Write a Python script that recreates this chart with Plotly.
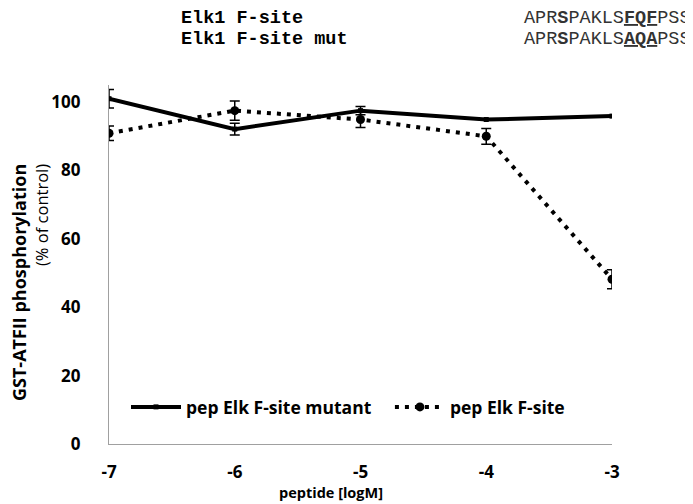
import plotly.graph_objects as go

# ---- data ----
log_conc = [-7, -6, -5, -4, -3]
mutant_vals = [101.0, 92.1, 97.5, 94.9, 95.9]
mutant_err = [2.7, 1.7, 1.2, 0.0, 0.0]
fsite_vals = [90.9, 97.5, 94.9, 90.0, 48.2]
fsite_err = [2.1, 2.8, 2.3, 2.3, 2.8]
y_ticks = [0, 20, 40, 60, 80, 100]
x_ticks = [-7, -6, -5, -4, -3]

FONT = "Open Sans"
MONO = "Liberation Mono"

fig = go.Figure()
fig.add_trace(go.Scatter(
    x=log_conc, y=mutant_vals, name="<b>pep Elk F-site mutant</b>\u00a0\u00a0\u00a0",
    mode="lines+markers",
    line=dict(color="black", width=4),
    marker=dict(symbol="square", size=5, color="black"),
    error_y=dict(type="data", array=mutant_err, visible=True,
                 color="black", thickness=1.5, width=5),
))
fig.add_trace(go.Scatter(
    x=log_conc, y=fsite_vals, name="<b>pep Elk F-site</b>",
    mode="lines+markers",
    line=dict(color="black", width=4, dash="4px,6px"),
    marker=dict(symbol="circle", size=9, color="black"),
    error_y=dict(type="data", array=fsite_err, visible=True,
                 color="black", thickness=1.5, width=5),
))

L, R, T, B = 101, 89, 77, 68
W, H = 693, 504
pw, ph = W - L - R, H - T - B

def px(xp):
    return (xp - L) / pw

def py(yp):
    return (H - B - yp) / ph

annos = [
    dict(text="<b>Elk1 F-site</b>", x=px(171), y=py(11), font=dict(family=MONO, size=18.5, color="black")),
    dict(text="<b>Elk1 F-site mut</b>", x=px(171), y=py(32), font=dict(family=MONO, size=18.5, color="black")),
    dict(text="APR<b>S</b>PAKLS<b><u>FQF</u></b>PSS", x=px(514), y=py(11), font=dict(family=MONO, size=18.5, color="#333")),
    dict(text="APR<b>S</b>PAKLS<b><u>AQA</u></b>PSS", x=px(514), y=py(32), font=dict(family=MONO, size=18.5, color="#333")),
]
for a in annos:
    fig.add_annotation(xref="paper", yref="paper", xanchor="left", yanchor="middle",
                       showarrow=False, **a)

fig.add_annotation(xref="paper", yref="paper", x=px(11), y=py(275), textangle=-90,
                   text="<b>GST-ATFII phosphorylation</b>", showarrow=False,
                   xanchor="center", yanchor="middle",
                   font=dict(family=FONT, size=18, color="black"))
fig.add_annotation(xref="paper", yref="paper", x=px(33), y=py(207), textangle=-90,
                   text="(% of control)", showarrow=False,
                   xanchor="center", yanchor="middle",
                   font=dict(family=FONT, size=16.5, color="black"))
fig.add_annotation(xref="paper", yref="paper", x=px(323), y=py(484),
                   text="<b>peptide [logM]</b>", showarrow=False,
                   xanchor="center", yanchor="middle",
                   font=dict(family=FONT, size=14.5, color="black"))

fig.update_layout(
    width=W, height=H,
    margin=dict(l=L, r=R, t=T, b=B),
    plot_bgcolor="white", paper_bgcolor="white",
    showlegend=True,
    legend=dict(orientation="h", x=px(118), y=py(399), xanchor="left", yanchor="middle",
                font=dict(family=FONT, size=17.5, color="black"),
                bgcolor="rgba(0,0,0,0)", itemwidth=50, traceorder="normal"),
    font=dict(family=FONT, color="black"),
)
fig.update_xaxes(range=[-7, -3], tickvals=x_ticks, ticktext=["<b>%d</b>" % v for v in x_ticks],
                 showgrid=False, zeroline=False, showline=True, linecolor="#a0a0a0",
                 linewidth=1.2, ticks="", ticklabelstandoff=12,
                 tickfont=dict(family=FONT, size=17, color="black"))
fig.update_yaxes(range=[0, 105], tickvals=y_ticks, ticktext=["<b>%d</b>" % v for v in y_ticks],
                 showgrid=False, zeroline=False, showline=True, linecolor="#a0a0a0",
                 linewidth=1.2, ticks="", ticklabelstandoff=24,
                 tickfont=dict(family=FONT, size=17, color="black"))

fig.write_html("out.html")
